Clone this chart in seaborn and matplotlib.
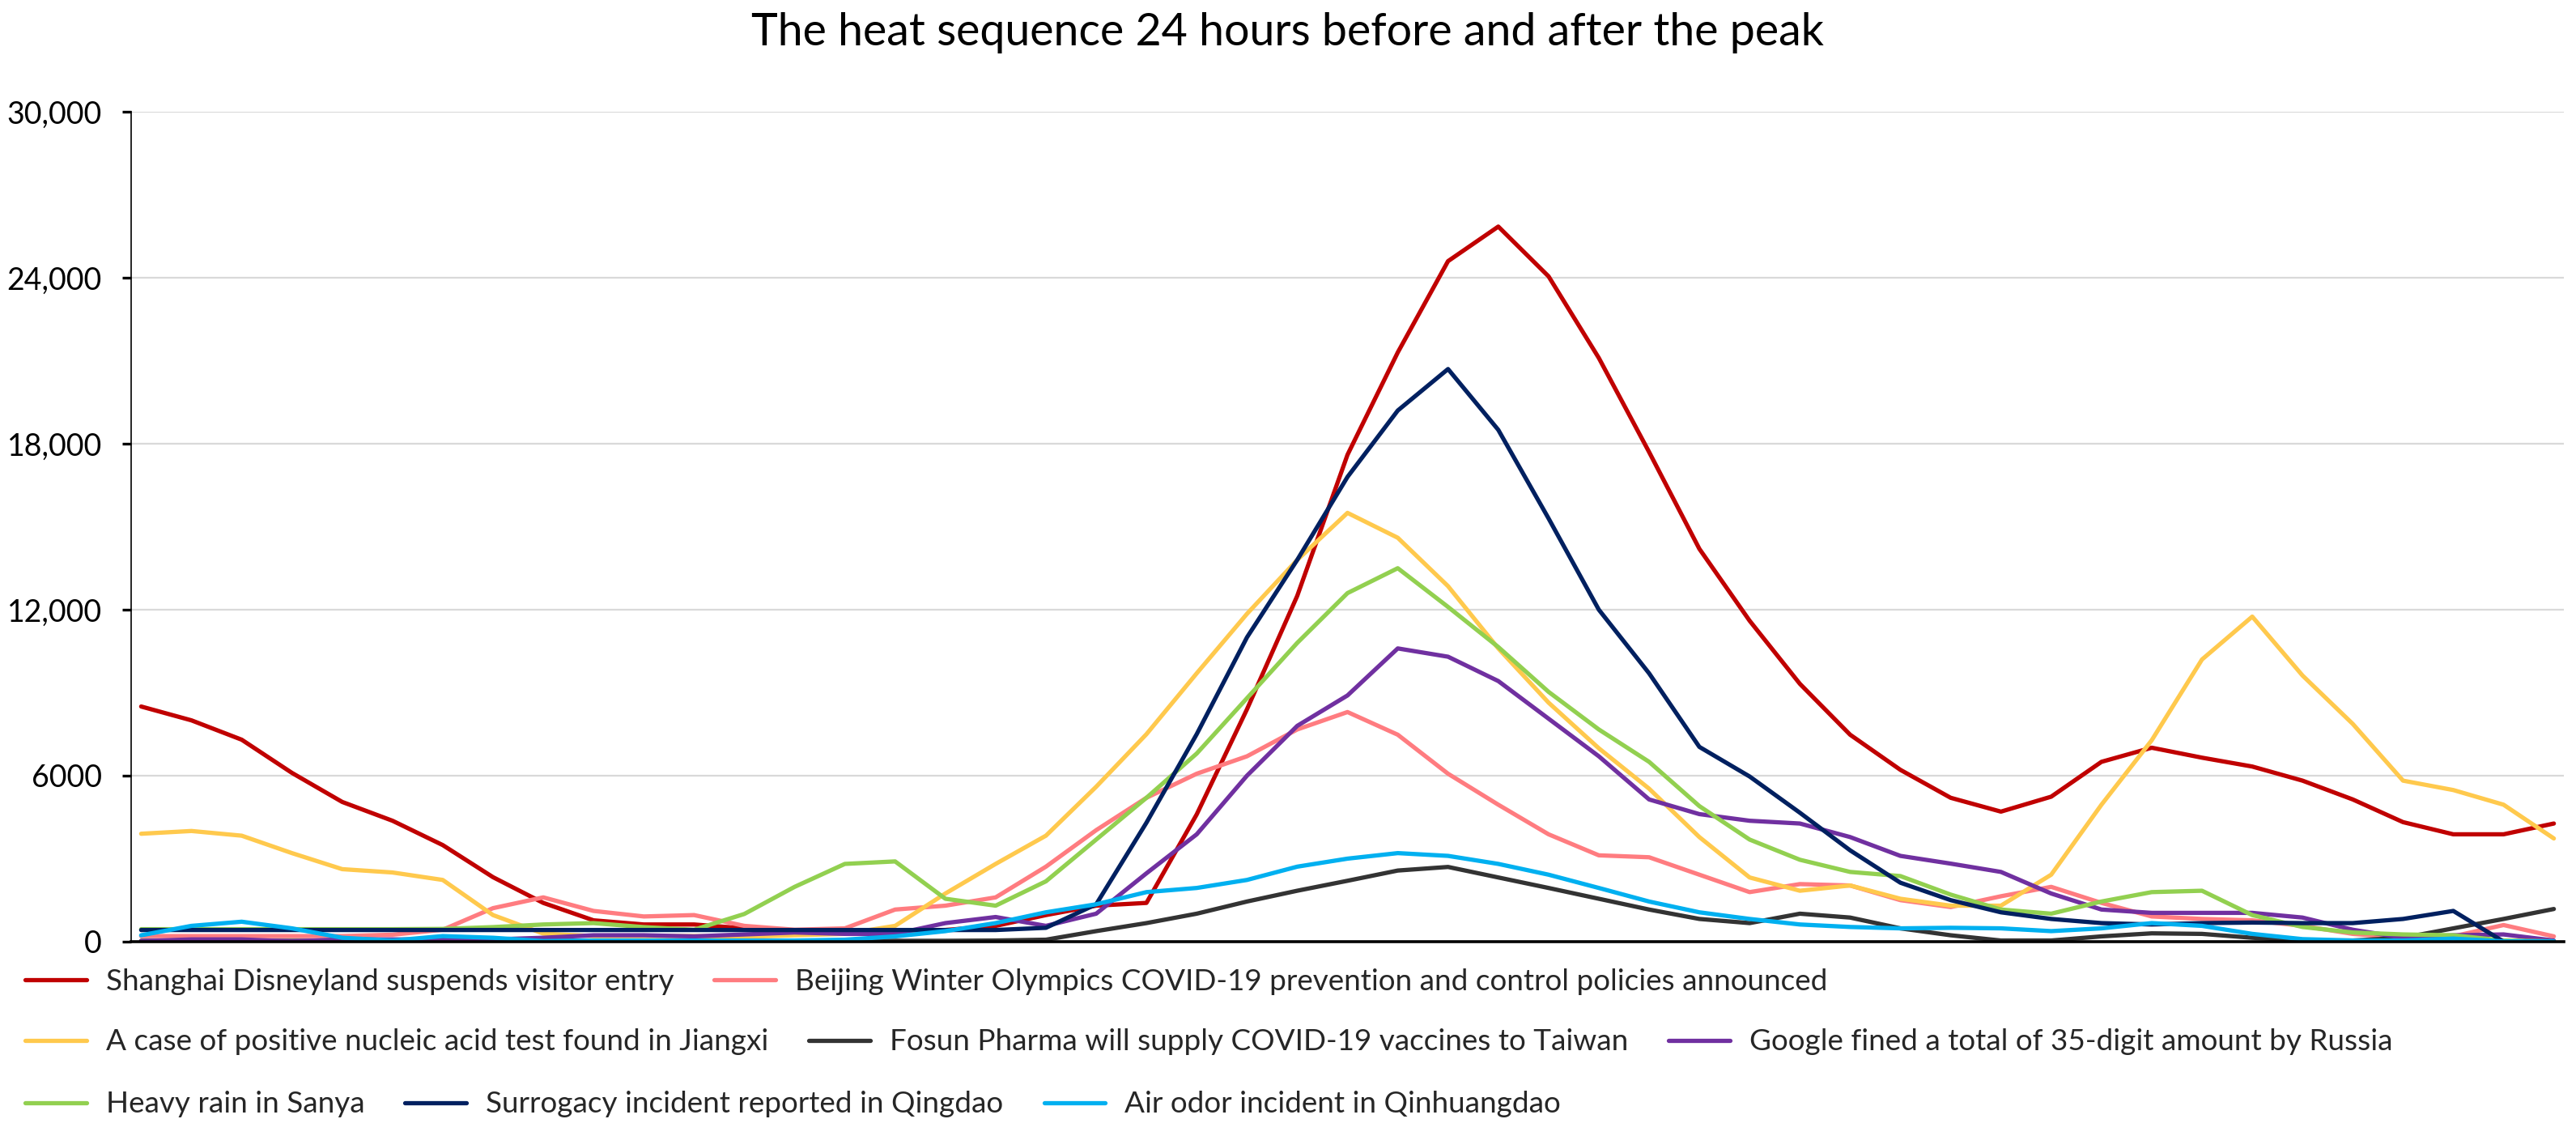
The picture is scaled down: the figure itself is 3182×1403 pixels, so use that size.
import matplotlib
matplotlib.use("Agg")
import matplotlib.pyplot as plt
import seaborn as sns
import pandas as pd
from matplotlib.lines import Line2D

# events (legend order) and their colours
events = [
    "Shanghai Disneyland suspends visitor entry",
    "Beijing Winter Olympics COVID-19 prevention and control policies announced",
    "A case of positive nucleic acid test found in Jiangxi",
    "Fosun Pharma will supply COVID-19 vaccines to Taiwan",
    "Google fined a total of 35-digit amount by Russia",
    "Heavy rain in Sanya",
    "Surrogacy incident reported in Qingdao",
    "Air odor incident in Qinhuangdao",
]
colors = ["#C00000", "#FF7C80", "#FFC94D", "#333333", "#7030A0", "#92D050", "#002060", "#00B0F0"]

# hourly heat, 24 h before and after the peak (49 points)
hours = list(range(49))
disney = [8500, 8000, 7300, 6100, 5050, 4370, 3490, 2330, 1400, 770, 620, 620, 480, 400, 400, 400, 420,
          570, 960, 1300, 1400, 4600, 8400, 12500, 17600, 21300, 24600, 25850, 24050, 21100, 17700, 14200,
          11600, 9320, 7480, 6210, 5200, 4700, 5240, 6500, 7010, 6650, 6330, 5820, 5140, 4320, 3880, 3880, 4270]
olympics = [200, 200, 200, 200, 200, 250, 430, 1210, 1600, 1110, 910, 960, 570, 430, 480, 1160, 1300,
            1600, 2710, 4030, 5200, 6070, 6700, 7670, 8300, 7480, 6070, 4950, 3880, 3120, 3050, 2420,
            1790, 2080, 2030, 1500, 1250, 1640, 1980, 1400, 910, 820, 770, 570, 280, 140, 190, 600, 190]
jiangxi = [3900, 4000, 3830, 3200, 2620, 2500, 2230, 960, 290, 200, 200, 200, 170, 230, 280, 570, 1740,
           2810, 3830, 5600, 7500, 9700, 11850, 13800, 15500, 14600, 12850, 10600, 8640, 6990, 5530, 3780,
           2320, 1840, 2030, 1550, 1300, 1300, 2420, 4950, 7280, 10200, 11750, 9620, 7870, 5820, 5480, 4950, 3730]
fosun = [30, 30, 30, 30, 30, 30, 30, 30, 30, 30, 30, 30, 30, 30, 30, 30, 30,
         40, 70, 380, 670, 1010, 1450, 1840, 2200, 2570, 2700, 2320, 1940, 1550, 1160, 820,
         670, 1010, 870, 480, 230, 40, 40, 190, 300, 280, 140, 40, 40, 140, 480, 820, 1180]
google = [20, 80, 80, 10, 80, 80, 80, 80, 140, 230, 230, 190, 260, 330, 280, 280, 670,
          890, 570, 1010, 2470, 3880, 6000, 7800, 8900, 10600, 10300, 9420, 8060, 6700, 5140, 4610,
          4370, 4270, 3780, 3100, 2820, 2520, 1740, 1160, 1040, 1040, 1040, 870, 430, 140, 230, 260, 40]
sanya = [450, 450, 450, 450, 450, 450, 460, 525, 620, 670, 525, 430, 1000, 1980, 2810, 2900, 1550,
         1300, 2180, 3690, 5200, 6800, 8800, 10800, 12600, 13500, 12100, 10650, 9030, 7670, 6500, 4900,
         3690, 2960, 2520, 2370, 1700, 1160, 1010, 1450, 1790, 1840, 960, 530, 330, 260, 230, 40, 10]
qingdao = [420, 420, 420, 420, 420, 420, 420, 420, 420, 420, 420, 420, 420, 420, 420, 420, 420,
           420, 500, 1350, 4300, 7500, 11000, 13800, 16800, 19200, 20700, 18500, 15300, 12000, 9700, 7040,
           5970, 4660, 3300, 2130, 1500, 1060, 820, 670, 620, 670, 690, 670, 670, 820, 1110, 0, 0]
qinhuangdao = [230, 570, 720, 480, 140, 40, 200, 140, 20, 40, 40, 40, 40, 40, 70, 190, 380,
               670, 1060, 1350, 1790, 1940, 2230, 2710, 3000, 3200, 3100, 2810, 2420, 1940, 1450, 1060,
               820, 620, 530, 480, 500, 480, 380, 480, 670, 570, 280, 90, 40, 40, 110, 10, 10]

yticks = [0, 6000, 12000, 18000, 24000, 30000]
ytick_labels = ["0", "6000", "12,000", "18,000", "24,000", "30,000"]
title = "The heat sequence 24 hours before and after the peak"

sns.set_theme(style="white")
plt.rcParams["font.family"] = ["Lato", "DejaVu Sans"]

df = pd.DataFrame({"hour": hours})
for name, vals in zip(events, [disney, olympics, jiangxi, fosun, google, sanya, qingdao, qinhuangdao]):
    df[name] = vals
long_df = df.melt(id_vars="hour", var_name="event", value_name="heat")

fig = plt.figure(figsize=(15.91, 7.015), dpi=200)
ax = fig.add_axes([0.0509, 0.1711, 0.9444, 0.7305])

sns.lineplot(data=long_df, x="hour", y="heat", hue="event", hue_order=events,
             palette=dict(zip(events, colors)), linewidth=1.9, legend=False, ax=ax)

ax.set_xlim(-0.2, 48.2)
ax.set_ylim(0, 30000)
ax.set_yticks(yticks)
ax.set_yticklabels(ytick_labels)
ax.set_xticks([])
ax.set_xlabel("")
ax.set_ylabel("")
ax.grid(axis="y", color="#D9D9D9", linewidth=0.8)
ax.set_axisbelow(True)
for s in ["top", "right"]:
    ax.spines[s].set_visible(False)
ax.spines["left"].set_color("black")
ax.spines["left"].set_linewidth(0.6)
ax.spines["bottom"].set_color("black")
ax.spines["bottom"].set_linewidth(1.3)
ax.tick_params(axis="y", left=True, length=4, width=1.2, color="black", direction="out",
               pad=9, labelsize=13.5, labelcolor="black")

fig.text(0.5, 0.971, title, ha="center", va="center", fontsize=20, color="black")

# legend laid out as three flowing rows
rows = [[0, 1], [2, 3, 4], [5, 6, 7]]
row_y = [0.1361, 0.0827, 0.0278]
for idx, y in zip(rows, row_y):
    handles = [Line2D([0], [0], color=colors[i], linewidth=1.9) for i in idx]
    labels = [events[i] for i in idx]
    fig.legend(handles, labels, loc="center left", bbox_to_anchor=(0.0097, y),
               ncol=len(idx), frameon=False, fontsize=13.3, handlelength=2.05,
               handletextpad=0.65, columnspacing=1.36, borderaxespad=0, borderpad=0)

fig.savefig("out.png", dpi=200)
